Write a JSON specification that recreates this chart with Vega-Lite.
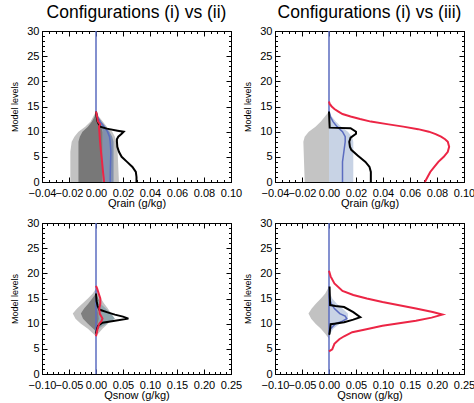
{
 "$schema": "https://vega.github.io/schema/vega-lite/v6.json",
 "background": "white",
 "padding": {"left": 10, "top": 3, "right": 0, "bottom": 0},
 "columns": 2,
 "spacing": {"row": 41, "column": 44},
 "bounds": "flush",
 "datasets": {
  "bands": [
   {"p":"A","band":"outer","level":0,"lo":-0.019,"hi":0.017},
   {"p":"A","band":"outer","level":6,"lo":-0.019,"hi":0.016},
   {"p":"A","band":"outer","level":8,"lo":-0.018,"hi":0.015},
   {"p":"A","band":"outer","level":9,"lo":-0.016,"hi":0.014},
   {"p":"A","band":"outer","level":10,"lo":-0.013,"hi":0.012},
   {"p":"A","band":"outer","level":11,"lo":-0.008,"hi":0.008},
   {"p":"A","band":"outer","level":12,"lo":-0.004,"hi":0.005},
   {"p":"A","band":"outer","level":13,"lo":-0.002,"hi":0.002},
   {"p":"A","band":"outer","level":14,"lo":0,"hi":0.0005},
   {"p":"A","band":"inner","level":0,"lo":-0.013,"hi":0.005},
   {"p":"A","band":"inner","level":8,"lo":-0.013,"hi":0.005},
   {"p":"A","band":"inner","level":9,"lo":-0.012,"hi":0.005},
   {"p":"A","band":"inner","level":10,"lo":-0.010,"hi":0.005},
   {"p":"A","band":"inner","level":11,"lo":-0.006,"hi":0.004},
   {"p":"A","band":"inner","level":12,"lo":-0.003,"hi":0.002},
   {"p":"A","band":"inner","level":13,"lo":-0.001,"hi":0.001},
   {"p":"A","band":"inner","level":14,"lo":0,"hi":0},
   {"p":"A","band":"blue","level":0,"lo":0.005,"hi":0.013},
   {"p":"A","band":"blue","level":8,"lo":0.005,"hi":0.013},
   {"p":"A","band":"blue","level":9,"lo":0.005,"hi":0.012},
   {"p":"A","band":"blue","level":10,"lo":0.005,"hi":0.010},
   {"p":"A","band":"blue","level":11,"lo":0.004,"hi":0.007},
   {"p":"A","band":"blue","level":12,"lo":0.002,"hi":0.004},
   {"p":"A","band":"blue","level":13,"lo":0.001,"hi":0.0015},
   {"p":"A","band":"blue","level":14,"lo":0,"hi":0},
   {"p":"B","band":"outer","level":0,"lo":-0.018,"hi":0},
   {"p":"B","band":"outer","level":8,"lo":-0.019,"hi":0},
   {"p":"B","band":"outer","level":9,"lo":-0.018,"hi":0},
   {"p":"B","band":"outer","level":10,"lo":-0.015,"hi":0},
   {"p":"B","band":"outer","level":11,"lo":-0.010,"hi":0},
   {"p":"B","band":"outer","level":12,"lo":-0.006,"hi":0},
   {"p":"B","band":"outer","level":13,"lo":-0.003,"hi":0},
   {"p":"B","band":"outer","level":14,"lo":0,"hi":0},
   {"p":"B","band":"blue","level":0,"lo":0,"hi":0.018},
   {"p":"B","band":"blue","level":8,"lo":0,"hi":0.018},
   {"p":"B","band":"blue","level":9,"lo":0,"hi":0.017},
   {"p":"B","band":"blue","level":10,"lo":0,"hi":0.014},
   {"p":"B","band":"blue","level":11,"lo":0,"hi":0.009},
   {"p":"B","band":"blue","level":12,"lo":0,"hi":0.005},
   {"p":"B","band":"blue","level":13,"lo":0,"hi":0.002},
   {"p":"B","band":"blue","level":14,"lo":0,"hi":0},
   {"p":"C","band":"outer","level":7.5,"lo":0,"hi":0},
   {"p":"C","band":"outer","level":8,"lo":-0.005,"hi":0.004},
   {"p":"C","band":"outer","level":9,"lo":-0.015,"hi":0.012},
   {"p":"C","band":"outer","level":10,"lo":-0.028,"hi":0.022},
   {"p":"C","band":"outer","level":11,"lo":-0.038,"hi":0.030},
   {"p":"C","band":"outer","level":12,"lo":-0.043,"hi":0.028},
   {"p":"C","band":"outer","level":13,"lo":-0.035,"hi":0.022},
   {"p":"C","band":"outer","level":14,"lo":-0.025,"hi":0.015},
   {"p":"C","band":"outer","level":15,"lo":-0.015,"hi":0.009},
   {"p":"C","band":"outer","level":16,"lo":-0.006,"hi":0.004},
   {"p":"C","band":"outer","level":17,"lo":0,"hi":0},
   {"p":"C","band":"inner","level":8.5,"lo":0,"hi":0},
   {"p":"C","band":"inner","level":10,"lo":-0.015,"hi":0.012},
   {"p":"C","band":"inner","level":11,"lo":-0.024,"hi":0.018},
   {"p":"C","band":"inner","level":12,"lo":-0.028,"hi":0.016},
   {"p":"C","band":"inner","level":13,"lo":-0.022,"hi":0.012},
   {"p":"C","band":"inner","level":14,"lo":-0.014,"hi":0.008},
   {"p":"C","band":"inner","level":15,"lo":-0.007,"hi":0.004},
   {"p":"C","band":"inner","level":16,"lo":0,"hi":0},
   {"p":"C","band":"blue","level":9,"lo":0,"hi":0.004},
   {"p":"C","band":"blue","level":10,"lo":0.003,"hi":0.02},
   {"p":"C","band":"blue","level":11,"lo":0.005,"hi":0.035},
   {"p":"C","band":"blue","level":12,"lo":0.004,"hi":0.028},
   {"p":"C","band":"blue","level":13,"lo":0.002,"hi":0.018},
   {"p":"C","band":"blue","level":14,"lo":0.001,"hi":0.008},
   {"p":"C","band":"blue","level":15,"lo":0,"hi":0.002},
   {"p":"D","band":"outer","level":7,"lo":0,"hi":0},
   {"p":"D","band":"outer","level":8,"lo":-0.007,"hi":0},
   {"p":"D","band":"outer","level":9,"lo":-0.015,"hi":0},
   {"p":"D","band":"outer","level":10,"lo":-0.025,"hi":0},
   {"p":"D","band":"outer","level":11,"lo":-0.033,"hi":0},
   {"p":"D","band":"outer","level":12,"lo":-0.038,"hi":0},
   {"p":"D","band":"outer","level":13,"lo":-0.032,"hi":0},
   {"p":"D","band":"outer","level":14,"lo":-0.024,"hi":0},
   {"p":"D","band":"outer","level":15,"lo":-0.015,"hi":0},
   {"p":"D","band":"outer","level":16,"lo":-0.007,"hi":0},
   {"p":"D","band":"outer","level":17,"lo":-0.002,"hi":0},
   {"p":"D","band":"outer","level":17.5,"lo":0,"hi":0},
   {"p":"D","band":"blue","level":8,"lo":0,"hi":0.002},
   {"p":"D","band":"blue","level":9,"lo":0,"hi":0.008},
   {"p":"D","band":"blue","level":10,"lo":0,"hi":0.020},
   {"p":"D","band":"blue","level":11,"lo":0,"hi":0.035},
   {"p":"D","band":"blue","level":12,"lo":0,"hi":0.035},
   {"p":"D","band":"blue","level":13,"lo":0,"hi":0.025},
   {"p":"D","band":"blue","level":14,"lo":0,"hi":0.014},
   {"p":"D","band":"blue","level":15,"lo":0,"hi":0.006},
   {"p":"D","band":"blue","level":16,"lo":0,"hi":0.002},
   {"p":"D","band":"blue","level":17,"lo":0,"hi":0}
  ],
  "lines": [
   {"p":"A","s":"blue","level":0,"x":0.0105},
   {"p":"A","s":"blue","level":2,"x":0.0106},
   {"p":"A","s":"blue","level":4,"x":0.0108},
   {"p":"A","s":"blue","level":6,"x":0.011},
   {"p":"A","s":"blue","level":8,"x":0.0105},
   {"p":"A","s":"blue","level":9,"x":0.010},
   {"p":"A","s":"blue","level":10,"x":0.0085},
   {"p":"A","s":"blue","level":11,"x":0.006},
   {"p":"A","s":"blue","level":12,"x":0.003},
   {"p":"A","s":"blue","level":13,"x":0.001},
   {"p":"A","s":"blue","level":14,"x":0},
   {"p":"A","s":"blue","level":30,"x":0},
   {"p":"A","s":"red","level":0,"x":0.006},
   {"p":"A","s":"red","level":2,"x":0.0052},
   {"p":"A","s":"red","level":4,"x":0.0045},
   {"p":"A","s":"red","level":6,"x":0.0037},
   {"p":"A","s":"red","level":8,"x":0.003},
   {"p":"A","s":"red","level":10,"x":0.0025},
   {"p":"A","s":"red","level":11,"x":0.0022},
   {"p":"A","s":"red","level":11.5,"x":0.003},
   {"p":"A","s":"red","level":12,"x":0.0015},
   {"p":"A","s":"red","level":13,"x":0.0008},
   {"p":"A","s":"red","level":14,"x":0},
   {"p":"A","s":"black","level":0,"x":0.030},
   {"p":"A","s":"black","level":1,"x":0.030},
   {"p":"A","s":"black","level":2,"x":0.0295},
   {"p":"A","s":"black","level":3,"x":0.027},
   {"p":"A","s":"black","level":4,"x":0.023},
   {"p":"A","s":"black","level":5,"x":0.019},
   {"p":"A","s":"black","level":6,"x":0.017},
   {"p":"A","s":"black","level":7,"x":0.0158},
   {"p":"A","s":"black","level":8,"x":0.0155},
   {"p":"A","s":"black","level":8.5,"x":0.0155},
   {"p":"A","s":"black","level":9,"x":0.0165},
   {"p":"A","s":"black","level":9.6,"x":0.019},
   {"p":"A","s":"black","level":10,"x":0.0205},
   {"p":"A","s":"black","level":10.2,"x":0.016},
   {"p":"A","s":"black","level":10.6,"x":0.008},
   {"p":"A","s":"black","level":11,"x":0.003},
   {"p":"A","s":"black","level":12,"x":0.0012},
   {"p":"A","s":"black","level":13,"x":0.0005},
   {"p":"A","s":"black","level":14,"x":0},
   {"p":"B","s":"blue","level":0,"x":0.010},
   {"p":"B","s":"blue","level":2,"x":0.010},
   {"p":"B","s":"blue","level":4,"x":0.010},
   {"p":"B","s":"blue","level":6,"x":0.011},
   {"p":"B","s":"blue","level":8,"x":0.012},
   {"p":"B","s":"blue","level":9,"x":0.012},
   {"p":"B","s":"blue","level":10,"x":0.010},
   {"p":"B","s":"blue","level":11,"x":0.006},
   {"p":"B","s":"blue","level":12,"x":0.003},
   {"p":"B","s":"blue","level":13,"x":0.001},
   {"p":"B","s":"blue","level":14,"x":0},
   {"p":"B","s":"blue","level":30,"x":0},
   {"p":"B","s":"black","level":0,"x":0.031},
   {"p":"B","s":"black","level":2,"x":0.031},
   {"p":"B","s":"black","level":3,"x":0.030},
   {"p":"B","s":"black","level":4,"x":0.027},
   {"p":"B","s":"black","level":5.3,"x":0.021},
   {"p":"B","s":"black","level":6.4,"x":0.0165},
   {"p":"B","s":"black","level":7,"x":0.0155},
   {"p":"B","s":"black","level":8,"x":0.015},
   {"p":"B","s":"black","level":8.8,"x":0.016},
   {"p":"B","s":"black","level":9.6,"x":0.020},
   {"p":"B","s":"black","level":10,"x":0.020},
   {"p":"B","s":"black","level":10.7,"x":0.016},
   {"p":"B","s":"black","level":10.8,"x":0.0005},
   {"p":"B","s":"black","level":12,"x":0.0003},
   {"p":"B","s":"black","level":14,"x":0},
   {"p":"B","s":"red","level":0,"x":0.071},
   {"p":"B","s":"red","level":1,"x":0.073},
   {"p":"B","s":"red","level":2,"x":0.075},
   {"p":"B","s":"red","level":3,"x":0.078},
   {"p":"B","s":"red","level":4,"x":0.081},
   {"p":"B","s":"red","level":5,"x":0.085},
   {"p":"B","s":"red","level":6,"x":0.088},
   {"p":"B","s":"red","level":7,"x":0.089},
   {"p":"B","s":"red","level":8,"x":0.088},
   {"p":"B","s":"red","level":8.5,"x":0.086},
   {"p":"B","s":"red","level":9,"x":0.083},
   {"p":"B","s":"red","level":9.5,"x":0.079},
   {"p":"B","s":"red","level":10,"x":0.074},
   {"p":"B","s":"red","level":10.5,"x":0.066},
   {"p":"B","s":"red","level":11,"x":0.055},
   {"p":"B","s":"red","level":11.5,"x":0.043},
   {"p":"B","s":"red","level":12,"x":0.031},
   {"p":"B","s":"red","level":12.5,"x":0.023},
   {"p":"B","s":"red","level":13,"x":0.016},
   {"p":"B","s":"red","level":13.5,"x":0.010},
   {"p":"B","s":"red","level":14,"x":0.007},
   {"p":"B","s":"red","level":14.5,"x":0.004},
   {"p":"B","s":"red","level":15,"x":0.002},
   {"p":"B","s":"red","level":15.5,"x":0.0005},
   {"p":"B","s":"red","level":16,"x":0},
   {"p":"C","s":"blue","level":0,"x":0},
   {"p":"C","s":"blue","level":30,"x":0},
   {"p":"C","s":"black","level":8,"x":0},
   {"p":"C","s":"black","level":9,"x":0.002},
   {"p":"C","s":"black","level":9.6,"x":0.004},
   {"p":"C","s":"black","level":10.2,"x":0.012},
   {"p":"C","s":"black","level":10.6,"x":0.035},
   {"p":"C","s":"black","level":11,"x":0.060},
   {"p":"C","s":"black","level":11.4,"x":0.050},
   {"p":"C","s":"black","level":11.8,"x":0.035},
   {"p":"C","s":"black","level":12.3,"x":0.020},
   {"p":"C","s":"black","level":12.8,"x":0.006},
   {"p":"C","s":"black","level":13.5,"x":0.003},
   {"p":"C","s":"black","level":14.5,"x":0.001},
   {"p":"C","s":"black","level":16,"x":0},
   {"p":"C","s":"red","level":7.5,"x":0},
   {"p":"C","s":"red","level":8,"x":0.001},
   {"p":"C","s":"red","level":9,"x":0.003},
   {"p":"C","s":"red","level":10,"x":0.006},
   {"p":"C","s":"red","level":10.5,"x":0.010},
   {"p":"C","s":"red","level":11,"x":0.012},
   {"p":"C","s":"red","level":12,"x":0.007},
   {"p":"C","s":"red","level":13,"x":0.006},
   {"p":"C","s":"red","level":14,"x":0.008},
   {"p":"C","s":"red","level":15,"x":0.008},
   {"p":"C","s":"red","level":16,"x":0.005},
   {"p":"C","s":"red","level":17,"x":0.002},
   {"p":"C","s":"red","level":17.5,"x":0},
   {"p":"D","s":"blue","level":0,"x":0},
   {"p":"D","s":"blue","level":30,"x":0},
   {"p":"D","s":"blue2","level":8,"x":0},
   {"p":"D","s":"blue2","level":9,"x":0.003},
   {"p":"D","s":"blue2","level":10,"x":0.012},
   {"p":"D","s":"blue2","level":10.5,"x":0.025},
   {"p":"D","s":"blue2","level":11,"x":0.033},
   {"p":"D","s":"blue2","level":11.5,"x":0.030},
   {"p":"D","s":"blue2","level":12,"x":0.020},
   {"p":"D","s":"blue2","level":13,"x":0.010},
   {"p":"D","s":"blue2","level":14,"x":0.004},
   {"p":"D","s":"blue2","level":15,"x":0.001},
   {"p":"D","s":"blue2","level":16,"x":0},
   {"p":"D","s":"black","level":7.8,"x":0},
   {"p":"D","s":"black","level":8,"x":0.001},
   {"p":"D","s":"black","level":9.9,"x":0.003},
   {"p":"D","s":"black","level":10,"x":0.010},
   {"p":"D","s":"black","level":10.3,"x":0.028},
   {"p":"D","s":"black","level":10.8,"x":0.045},
   {"p":"D","s":"black","level":11.3,"x":0.058},
   {"p":"D","s":"black","level":12.3,"x":0.045},
   {"p":"D","s":"black","level":13.3,"x":0.028},
   {"p":"D","s":"black","level":13.5,"x":0.012},
   {"p":"D","s":"black","level":13.7,"x":0.002},
   {"p":"D","s":"black","level":17.4,"x":0.001},
   {"p":"D","s":"red","level":4.5,"x":0},
   {"p":"D","s":"red","level":4.9,"x":0.006},
   {"p":"D","s":"red","level":6,"x":0.010},
   {"p":"D","s":"red","level":6.9,"x":0.019},
   {"p":"D","s":"red","level":7.5,"x":0.028},
   {"p":"D","s":"red","level":8.3,"x":0.043},
   {"p":"D","s":"red","level":8.8,"x":0.065},
   {"p":"D","s":"red","level":9.6,"x":0.099},
   {"p":"D","s":"red","level":10.6,"x":0.161},
   {"p":"D","s":"red","level":11.2,"x":0.190},
   {"p":"D","s":"red","level":11.8,"x":0.210},
   {"p":"D","s":"red","level":12.3,"x":0.192},
   {"p":"D","s":"red","level":13,"x":0.161},
   {"p":"D","s":"red","level":14.3,"x":0.099},
   {"p":"D","s":"red","level":15,"x":0.070},
   {"p":"D","s":"red","level":15.7,"x":0.045},
   {"p":"D","s":"red","level":16.5,"x":0.025},
   {"p":"D","s":"red","level":18,"x":0.010},
   {"p":"D","s":"red","level":19.4,"x":0.003},
   {"p":"D","s":"red","level":20.5,"x":0}
  ]
 },
 "concat": [
  {
   "width": 189, "height": 151,
   "title": {"text": "Configurations (i) vs (ii)"},
   "resolve": {"scale": {"x": "independent", "y": "independent"}},
   "layer": [
    {"data": {"name": "bands"}, "transform": [{"filter": "datum.p == 'A' && datum.band == 'outer'"}],
     "mark": {"type": "area", "orient": "horizontal", "color": "#c2c2c2"},
     "encoding": {
      "y": {"field": "level", "type": "quantitative", "scale": {"domain": [0, 30], "nice": false, "zero": false},
            "axis": {"orient": "right", "values": [0,1,2,3,4,5,6,7,8,9,10,11,12,13,14,15,16,17,18,19,20,21,22,23,24,25,26,27,28,29,30], "labels": false, "tickSize": {"condition": {"test": "datum.value % 5 == 0", "value": -5}, "value": -2.5}, "title": null}},
      "x": {"field": "lo", "type": "quantitative", "scale": {"domain": [-0.04, 0.1], "nice": false, "zero": false},
            "axis": {"orient": "top", "values": [-0.04,-0.035,-0.03,-0.025,-0.02,-0.015,-0.01,-0.005,0,0.005,0.01,0.015,0.02,0.025,0.03,0.035,0.04,0.045,0.05,0.055,0.06,0.065,0.07,0.075,0.08,0.085,0.09,0.095,0.1], "labels": false, "tickSize": {"condition": {"test": "abs(datum.value*50 - round(datum.value*50)) < 0.001", "value": -5}, "value": -2.5}, "title": null}},
      "x2": {"field": "hi"}
     }},
    {"data": {"name": "bands"}, "transform": [{"filter": "datum.p == 'A' && datum.band == 'inner'"}],
     "mark": {"type": "area", "orient": "horizontal", "color": "#787878"},
     "encoding": {
      "y": {"field": "level", "type": "quantitative", "scale": {"domain": [0, 30], "nice": false, "zero": false},
            "axis": {"orient": "left", "values": [0,1,2,3,4,5,6,7,8,9,10,11,12,13,14,15,16,17,18,19,20,21,22,23,24,25,26,27,28,29,30], "labelExpr": "datum.value % 5 == 0 ? format(datum.value, 'd') : ''", "tickSize": {"condition": {"test": "datum.value % 5 == 0", "value": -5}, "value": -2.5}, "labelPadding": 8, "title": "Model levels"}},
      "x": {"field": "lo", "type": "quantitative", "scale": {"domain": [-0.04, 0.1], "nice": false, "zero": false},
            "axis": {"orient": "bottom", "values": [-0.04,-0.035,-0.03,-0.025,-0.02,-0.015,-0.01,-0.005,0,0.005,0.01,0.015,0.02,0.025,0.03,0.035,0.04,0.045,0.05,0.055,0.06,0.065,0.07,0.075,0.08,0.085,0.09,0.095,0.1], "labelExpr": "abs(datum.value*50 - round(datum.value*50)) < 0.001 ? format(datum.value, '.2f') : ''", "tickSize": {"condition": {"test": "abs(datum.value*50 - round(datum.value*50)) < 0.001", "value": -5}, "value": -2.5}, "labelPadding": 10, "title": "Qrain (g/kg)"}},
      "x2": {"field": "hi"}
     }},
    {"data": {"name": "bands"}, "transform": [{"filter": "datum.p == 'A' && datum.band == 'blue'"}],
     "mark": {"type": "area", "orient": "horizontal", "color": "#8190ad"},
     "encoding": {"y": {"field": "level", "type": "quantitative", "scale": {"domain": [0, 30], "nice": false, "zero": false}, "axis": null}, "x": {"field": "lo", "type": "quantitative", "scale": {"domain": [-0.04, 0.1], "nice": false, "zero": false}, "axis": null}, "x2": {"field": "hi"}}},
    {"data": {"name": "lines"}, "transform": [{"filter": "datum.p == 'A' && test(/^blue/, datum.s)"}],
     "mark": {"type": "line", "color": "#5b6cc0", "strokeWidth": 1.5},
     "encoding": {"y": {"field": "level", "type": "quantitative", "scale": {"domain": [0, 30], "nice": false, "zero": false}, "axis": null}, "x": {"field": "x", "type": "quantitative", "scale": {"domain": [-0.04, 0.1], "nice": false, "zero": false}, "axis": null}, "detail": {"field": "s"}, "order": {"field": "level", "type": "quantitative"}}},
    {"data": {"name": "lines"}, "transform": [{"filter": "datum.p == 'A' && datum.s == 'black'"}],
     "mark": {"type": "line", "color": "#000000", "strokeWidth": 2},
     "encoding": {"y": {"field": "level", "type": "quantitative", "scale": {"domain": [0, 30], "nice": false, "zero": false}, "axis": null}, "x": {"field": "x", "type": "quantitative", "scale": {"domain": [-0.04, 0.1], "nice": false, "zero": false}, "axis": null}, "order": {"field": "level", "type": "quantitative"}}},
    {"data": {"name": "lines"}, "transform": [{"filter": "datum.p == 'A' && datum.s == 'red'"}],
     "mark": {"type": "line", "color": "#ec2545", "strokeWidth": 2},
     "encoding": {"y": {"field": "level", "type": "quantitative", "scale": {"domain": [0, 30], "nice": false, "zero": false}, "axis": null}, "x": {"field": "x", "type": "quantitative", "scale": {"domain": [-0.04, 0.1], "nice": false, "zero": false}, "axis": null}, "order": {"field": "level", "type": "quantitative"}}}
   ]
  },
  {
   "width": 189, "height": 151,
   "title": {"text": "Configurations (i) vs (iii)"},
   "resolve": {"scale": {"x": "independent", "y": "independent"}},
   "layer": [
    {"data": {"name": "bands"}, "transform": [{"filter": "datum.p == 'B' && datum.band == 'outer'"}],
     "mark": {"type": "area", "orient": "horizontal", "color": "#c4c4c4"},
     "encoding": {
      "y": {"field": "level", "type": "quantitative", "scale": {"domain": [0, 30], "nice": false, "zero": false},
            "axis": {"orient": "right", "values": [0,1,2,3,4,5,6,7,8,9,10,11,12,13,14,15,16,17,18,19,20,21,22,23,24,25,26,27,28,29,30], "labels": false, "tickSize": {"condition": {"test": "datum.value % 5 == 0", "value": -5}, "value": -2.5}, "title": null}},
      "x": {"field": "lo", "type": "quantitative", "scale": {"domain": [-0.04, 0.1], "nice": false, "zero": false},
            "axis": {"orient": "top", "values": [-0.04,-0.035,-0.03,-0.025,-0.02,-0.015,-0.01,-0.005,0,0.005,0.01,0.015,0.02,0.025,0.03,0.035,0.04,0.045,0.05,0.055,0.06,0.065,0.07,0.075,0.08,0.085,0.09,0.095,0.1], "labels": false, "tickSize": {"condition": {"test": "abs(datum.value*50 - round(datum.value*50)) < 0.001", "value": -5}, "value": -2.5}, "title": null}},
      "x2": {"field": "hi"}
     }},
    {"data": {"name": "bands"}, "transform": [{"filter": "datum.p == 'B' && datum.band == 'blue'"}],
     "mark": {"type": "area", "orient": "horizontal", "color": "#c8d3e5"},
     "encoding": {
      "y": {"field": "level", "type": "quantitative", "scale": {"domain": [0, 30], "nice": false, "zero": false},
            "axis": {"orient": "left", "values": [0,1,2,3,4,5,6,7,8,9,10,11,12,13,14,15,16,17,18,19,20,21,22,23,24,25,26,27,28,29,30], "labelExpr": "datum.value % 5 == 0 ? format(datum.value, 'd') : ''", "tickSize": {"condition": {"test": "datum.value % 5 == 0", "value": -5}, "value": -2.5}, "labelPadding": 8, "title": "Model levels"}},
      "x": {"field": "lo", "type": "quantitative", "scale": {"domain": [-0.04, 0.1], "nice": false, "zero": false},
            "axis": {"orient": "bottom", "values": [-0.04,-0.035,-0.03,-0.025,-0.02,-0.015,-0.01,-0.005,0,0.005,0.01,0.015,0.02,0.025,0.03,0.035,0.04,0.045,0.05,0.055,0.06,0.065,0.07,0.075,0.08,0.085,0.09,0.095,0.1], "labelExpr": "abs(datum.value*50 - round(datum.value*50)) < 0.001 ? format(datum.value, '.2f') : ''", "tickSize": {"condition": {"test": "abs(datum.value*50 - round(datum.value*50)) < 0.001", "value": -5}, "value": -2.5}, "labelPadding": 10, "title": "Qrain (g/kg)"}},
      "x2": {"field": "hi"}
     }},
    {"data": {"name": "lines"}, "transform": [{"filter": "datum.p == 'B' && test(/^blue/, datum.s)"}],
     "mark": {"type": "line", "color": "#5b6cc0", "strokeWidth": 1.5},
     "encoding": {"y": {"field": "level", "type": "quantitative", "scale": {"domain": [0, 30], "nice": false, "zero": false}, "axis": null}, "x": {"field": "x", "type": "quantitative", "scale": {"domain": [-0.04, 0.1], "nice": false, "zero": false}, "axis": null}, "detail": {"field": "s"}, "order": {"field": "level", "type": "quantitative"}}},
    {"data": {"name": "lines"}, "transform": [{"filter": "datum.p == 'B' && datum.s == 'black'"}],
     "mark": {"type": "line", "color": "#000000", "strokeWidth": 2},
     "encoding": {"y": {"field": "level", "type": "quantitative", "scale": {"domain": [0, 30], "nice": false, "zero": false}, "axis": null}, "x": {"field": "x", "type": "quantitative", "scale": {"domain": [-0.04, 0.1], "nice": false, "zero": false}, "axis": null}, "order": {"field": "level", "type": "quantitative"}}},
    {"data": {"name": "lines"}, "transform": [{"filter": "datum.p == 'B' && datum.s == 'red'"}],
     "mark": {"type": "line", "color": "#ec2545", "strokeWidth": 2},
     "encoding": {"y": {"field": "level", "type": "quantitative", "scale": {"domain": [0, 30], "nice": false, "zero": false}, "axis": null}, "x": {"field": "x", "type": "quantitative", "scale": {"domain": [-0.04, 0.1], "nice": false, "zero": false}, "axis": null}, "order": {"field": "level", "type": "quantitative"}}}
   ]
  },
  {
   "width": 189, "height": 151,
   "resolve": {"scale": {"x": "independent", "y": "independent"}},
   "layer": [
    {"data": {"name": "bands"}, "transform": [{"filter": "datum.p == 'C' && datum.band == 'outer'"}],
     "mark": {"type": "area", "orient": "horizontal", "color": "#c2c2c2"},
     "encoding": {
      "y": {"field": "level", "type": "quantitative", "scale": {"domain": [0, 30], "nice": false, "zero": false},
            "axis": {"orient": "right", "values": [0,1,2,3,4,5,6,7,8,9,10,11,12,13,14,15,16,17,18,19,20,21,22,23,24,25,26,27,28,29,30], "labels": false, "tickSize": {"condition": {"test": "datum.value % 5 == 0", "value": -5}, "value": -2.5}, "title": null}},
      "x": {"field": "lo", "type": "quantitative", "scale": {"domain": [-0.1, 0.25], "nice": false, "zero": false},
            "axis": {"orient": "top", "values": [-0.1,-0.09,-0.08,-0.07,-0.06,-0.05,-0.04,-0.03,-0.02,-0.01,0,0.01,0.02,0.03,0.04,0.05,0.06,0.07,0.08,0.09,0.1,0.11,0.12,0.13,0.14,0.15,0.16,0.17,0.18,0.19,0.2,0.21,0.22,0.23,0.24,0.25], "labels": false, "tickSize": {"condition": {"test": "abs(datum.value*20 - round(datum.value*20)) < 0.001", "value": -5}, "value": -2.5}, "title": null}},
      "x2": {"field": "hi"}
     }},
    {"data": {"name": "bands"}, "transform": [{"filter": "datum.p == 'C' && datum.band == 'inner'"}],
     "mark": {"type": "area", "orient": "horizontal", "color": "#7f7f7f"},
     "encoding": {
      "y": {"field": "level", "type": "quantitative", "scale": {"domain": [0, 30], "nice": false, "zero": false},
            "axis": {"orient": "left", "values": [0,1,2,3,4,5,6,7,8,9,10,11,12,13,14,15,16,17,18,19,20,21,22,23,24,25,26,27,28,29,30], "labelExpr": "datum.value % 5 == 0 ? format(datum.value, 'd') : ''", "tickSize": {"condition": {"test": "datum.value % 5 == 0", "value": -5}, "value": -2.5}, "labelPadding": 8, "title": "Model levels"}},
      "x": {"field": "lo", "type": "quantitative", "scale": {"domain": [-0.1, 0.25], "nice": false, "zero": false},
            "axis": {"orient": "bottom", "values": [-0.1,-0.09,-0.08,-0.07,-0.06,-0.05,-0.04,-0.03,-0.02,-0.01,0,0.01,0.02,0.03,0.04,0.05,0.06,0.07,0.08,0.09,0.1,0.11,0.12,0.13,0.14,0.15,0.16,0.17,0.18,0.19,0.2,0.21,0.22,0.23,0.24,0.25], "labelExpr": "abs(datum.value*20 - round(datum.value*20)) < 0.001 ? format(datum.value, '.2f') : ''", "tickSize": {"condition": {"test": "abs(datum.value*20 - round(datum.value*20)) < 0.001", "value": -5}, "value": -2.5}, "labelPadding": 10, "title": "Qsnow (g/kg)"}},
      "x2": {"field": "hi"}
     }},
    {"data": {"name": "bands"}, "transform": [{"filter": "datum.p == 'C' && datum.band == 'blue'"}],
     "mark": {"type": "area", "orient": "horizontal", "color": "#8fa6ad"},
     "encoding": {"y": {"field": "level", "type": "quantitative", "scale": {"domain": [0, 30], "nice": false, "zero": false}, "axis": null}, "x": {"field": "lo", "type": "quantitative", "scale": {"domain": [-0.1, 0.25], "nice": false, "zero": false}, "axis": null}, "x2": {"field": "hi"}}},
    {"data": {"name": "lines"}, "transform": [{"filter": "datum.p == 'C' && test(/^blue/, datum.s)"}],
     "mark": {"type": "line", "color": "#5b6cc0", "strokeWidth": 1.5},
     "encoding": {"y": {"field": "level", "type": "quantitative", "scale": {"domain": [0, 30], "nice": false, "zero": false}, "axis": null}, "x": {"field": "x", "type": "quantitative", "scale": {"domain": [-0.1, 0.25], "nice": false, "zero": false}, "axis": null}, "detail": {"field": "s"}, "order": {"field": "level", "type": "quantitative"}}},
    {"data": {"name": "lines"}, "transform": [{"filter": "datum.p == 'C' && datum.s == 'black'"}],
     "mark": {"type": "line", "color": "#000000", "strokeWidth": 2},
     "encoding": {"y": {"field": "level", "type": "quantitative", "scale": {"domain": [0, 30], "nice": false, "zero": false}, "axis": null}, "x": {"field": "x", "type": "quantitative", "scale": {"domain": [-0.1, 0.25], "nice": false, "zero": false}, "axis": null}, "order": {"field": "level", "type": "quantitative"}}},
    {"data": {"name": "lines"}, "transform": [{"filter": "datum.p == 'C' && datum.s == 'red'"}],
     "mark": {"type": "line", "color": "#ec2545", "strokeWidth": 2},
     "encoding": {"y": {"field": "level", "type": "quantitative", "scale": {"domain": [0, 30], "nice": false, "zero": false}, "axis": null}, "x": {"field": "x", "type": "quantitative", "scale": {"domain": [-0.1, 0.25], "nice": false, "zero": false}, "axis": null}, "order": {"field": "level", "type": "quantitative"}}}
   ]
  },
  {
   "width": 189, "height": 151,
   "resolve": {"scale": {"x": "independent", "y": "independent"}},
   "layer": [
    {"data": {"name": "bands"}, "transform": [{"filter": "datum.p == 'D' && datum.band == 'outer'"}],
     "mark": {"type": "area", "orient": "horizontal", "color": "#c2c2c2"},
     "encoding": {
      "y": {"field": "level", "type": "quantitative", "scale": {"domain": [0, 30], "nice": false, "zero": false},
            "axis": {"orient": "right", "values": [0,1,2,3,4,5,6,7,8,9,10,11,12,13,14,15,16,17,18,19,20,21,22,23,24,25,26,27,28,29,30], "labels": false, "tickSize": {"condition": {"test": "datum.value % 5 == 0", "value": -5}, "value": -2.5}, "title": null}},
      "x": {"field": "lo", "type": "quantitative", "scale": {"domain": [-0.1, 0.25], "nice": false, "zero": false},
            "axis": {"orient": "top", "values": [-0.1,-0.09,-0.08,-0.07,-0.06,-0.05,-0.04,-0.03,-0.02,-0.01,0,0.01,0.02,0.03,0.04,0.05,0.06,0.07,0.08,0.09,0.1,0.11,0.12,0.13,0.14,0.15,0.16,0.17,0.18,0.19,0.2,0.21,0.22,0.23,0.24,0.25], "labels": false, "tickSize": {"condition": {"test": "abs(datum.value*20 - round(datum.value*20)) < 0.001", "value": -5}, "value": -2.5}, "title": null}},
      "x2": {"field": "hi"}
     }},
    {"data": {"name": "bands"}, "transform": [{"filter": "datum.p == 'D' && datum.band == 'blue'"}],
     "mark": {"type": "area", "orient": "horizontal", "color": "#c8d3e5"},
     "encoding": {
      "y": {"field": "level", "type": "quantitative", "scale": {"domain": [0, 30], "nice": false, "zero": false},
            "axis": {"orient": "left", "values": [0,1,2,3,4,5,6,7,8,9,10,11,12,13,14,15,16,17,18,19,20,21,22,23,24,25,26,27,28,29,30], "labelExpr": "datum.value % 5 == 0 ? format(datum.value, 'd') : ''", "tickSize": {"condition": {"test": "datum.value % 5 == 0", "value": -5}, "value": -2.5}, "labelPadding": 8, "title": "Model levels"}},
      "x": {"field": "lo", "type": "quantitative", "scale": {"domain": [-0.1, 0.25], "nice": false, "zero": false},
            "axis": {"orient": "bottom", "values": [-0.1,-0.09,-0.08,-0.07,-0.06,-0.05,-0.04,-0.03,-0.02,-0.01,0,0.01,0.02,0.03,0.04,0.05,0.06,0.07,0.08,0.09,0.1,0.11,0.12,0.13,0.14,0.15,0.16,0.17,0.18,0.19,0.2,0.21,0.22,0.23,0.24,0.25], "labelExpr": "abs(datum.value*20 - round(datum.value*20)) < 0.001 ? format(datum.value, '.2f') : ''", "tickSize": {"condition": {"test": "abs(datum.value*20 - round(datum.value*20)) < 0.001", "value": -5}, "value": -2.5}, "labelPadding": 10, "title": "Qsnow (g/kg)"}},
      "x2": {"field": "hi"}
     }},
    {"data": {"name": "lines"}, "transform": [{"filter": "datum.p == 'D' && test(/^blue/, datum.s)"}],
     "mark": {"type": "line", "color": "#5b6cc0", "strokeWidth": 1.5},
     "encoding": {"y": {"field": "level", "type": "quantitative", "scale": {"domain": [0, 30], "nice": false, "zero": false}, "axis": null}, "x": {"field": "x", "type": "quantitative", "scale": {"domain": [-0.1, 0.25], "nice": false, "zero": false}, "axis": null}, "detail": {"field": "s"}, "order": {"field": "level", "type": "quantitative"}}},
    {"data": {"name": "lines"}, "transform": [{"filter": "datum.p == 'D' && datum.s == 'black'"}],
     "mark": {"type": "line", "color": "#000000", "strokeWidth": 2},
     "encoding": {"y": {"field": "level", "type": "quantitative", "scale": {"domain": [0, 30], "nice": false, "zero": false}, "axis": null}, "x": {"field": "x", "type": "quantitative", "scale": {"domain": [-0.1, 0.25], "nice": false, "zero": false}, "axis": null}, "order": {"field": "level", "type": "quantitative"}}},
    {"data": {"name": "lines"}, "transform": [{"filter": "datum.p == 'D' && datum.s == 'red'"}],
     "mark": {"type": "line", "color": "#ec2545", "strokeWidth": 2},
     "encoding": {"y": {"field": "level", "type": "quantitative", "scale": {"domain": [0, 30], "nice": false, "zero": false}, "axis": null}, "x": {"field": "x", "type": "quantitative", "scale": {"domain": [-0.1, 0.25], "nice": false, "zero": false}, "axis": null}, "order": {"field": "level", "type": "quantitative"}}}
   ]
  }
 ],
 "config": {
  "font": "Liberation Sans",
  "view": {"stroke": "black", "strokeWidth": 1},
  "axis": {"labelFontSize": 11, "labelColor": "black", "tickColor": "black", "tickWidth": 1, "domainColor": "black", "domainWidth": 1, "titleColor": "black", "titleFontWeight": "normal", "titleFontSize": 11, "titlePadding": -3, "grid": false, "zindex": 1, "labelOverlap": false, "labelFlush": false, "labelBound": false},
  "axisLeft": {"titleFontSize": 9, "titleFont": "Liberation Sans Narrow, Liberation Sans", "titlePadding": 7},
  "title": {"fontSize": 17.5, "fontWeight": "normal", "color": "black", "anchor": "middle", "offset": 0}
 }
}
